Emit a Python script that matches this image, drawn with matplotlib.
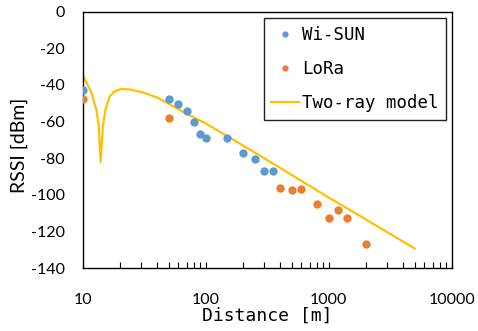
import matplotlib
matplotlib.use("Agg")
import matplotlib.pyplot as plt

wisun_dist = [10, 50, 60, 70, 80, 90, 100, 150, 200, 250, 300, 350]
wisun_rssi = [-42.6, -47.5, -50.4, -54.0, -60.2, -66.9, -69.1, -69.1, -77.4, -80.3, -86.8, -87.2]

lora_dist = [10, 50, 400, 500, 600, 800, 1000, 1200, 1400, 2000]
lora_rssi = [-47.7, -58.2, -96.1, -97.6, -96.6, -104.8, -112.6, -108.3, -112.6, -126.9]

# two-ray model curve
model_dist = [10, 11.8, 12.9, 13.5, 14.0, 14.6, 15.3, 16.6, 18.2, 20.6, 24.8, 31.9, 40.9,
              50, 70, 100, 200, 400, 1000, 2000, 5000]
model_rssi = [-34.5, -44.4, -53.5, -62.6, -82.0, -62.6, -53.5, -46.2, -43.5, -42.2, -42.6, -44.4, -47.1,
              -50.3, -55.8, -61.0, -73.0, -85.2, -101.5, -113.4, -129.3]

xticks = [10, 100, 1000, 10000]
yticks = [0, -20, -40, -60, -80, -100, -120, -140]

mono = "DejaVu Sans Mono"
tickfont = "Lato"

fig = plt.figure(figsize=(4.78, 3.31), dpi=100)
ax = fig.add_axes([0.173, 0.19, 0.772, 0.775])

ax.plot(model_dist, model_rssi, color="#FFC000", lw=1.6, label="Two-ray model", zorder=2)
ax.plot(wisun_dist, wisun_rssi, "o", color="#5B9BD5", ms=6, mec="none", label="Wi-SUN", zorder=3)
ax.plot(lora_dist, lora_rssi, "o", color="#ED7D31", ms=6, mec="none", label="LoRa", zorder=3)

ax.set_xscale("log")
ax.set_xlim(10, 10000)
ax.set_ylim(-140, 0)
ax.set_xticks(xticks)
ax.set_xticklabels([str(t) for t in xticks], family=tickfont, fontsize=11.5)
ax.set_yticks(yticks)
ax.set_yticklabels([str(t) for t in yticks], family=tickfont, fontsize=11.5)
ax.tick_params(axis="x", which="both", direction="in", length=4, width=0.8, pad=18)
ax.tick_params(axis="y", which="both", length=0, pad=13)

for s in ax.spines.values():
    s.set_linewidth(1.0)
    s.set_color("black")

ax.set_xlabel("Distance [m]", family=mono, fontsize=13, labelpad=0)
ax.set_ylabel("RSSI [dBm]", family=tickfont, fontsize=14)
ax.yaxis.set_label_coords(-0.148, 0.478)

h, l = ax.get_legend_handles_labels()
order = [1, 2, 0]
leg = ax.legend([h[i] for i in order], [l[i] for i in order], loc="upper right",
                bbox_to_anchor=(0.985, 0.975), borderaxespad=0, fancybox=False,
                edgecolor="#222222", framealpha=1, prop={"family": mono, "size": 12.5},
                handlelength=1.6, handletextpad=0.15, labelspacing=0.92, markerscale=0.75,
                borderpad=0.45)
leg.get_frame().set_linewidth(1.0)

fig.savefig("out.png", dpi=100)
